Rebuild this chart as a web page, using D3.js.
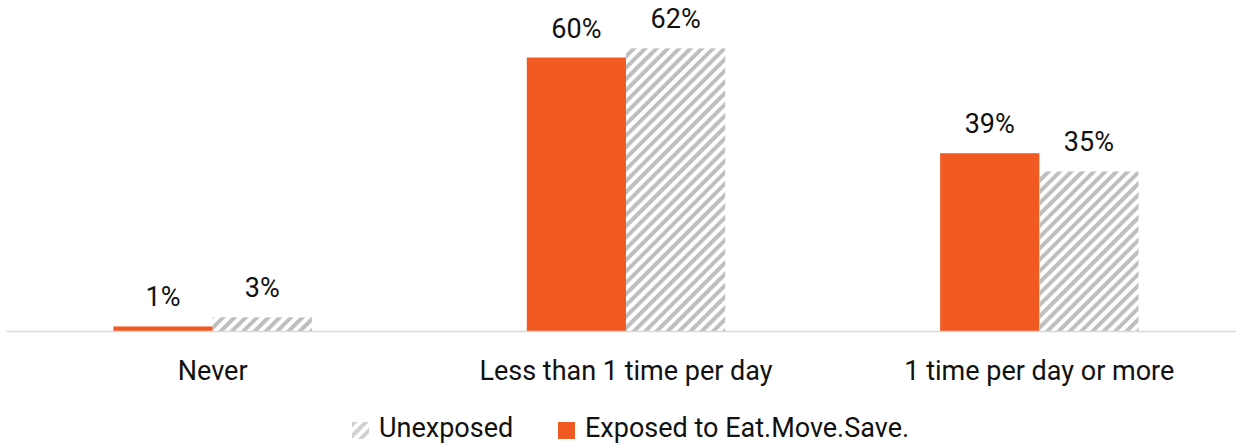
<!DOCTYPE html>
<html>
<head>
<meta charset="utf-8">
<script src="https://cdn.jsdelivr.net/npm/d3@7"></script>
<style>
  body { margin: 0; background: #fff; }
  text { font-family: "Roboto", "Noto Sans", sans-serif; fill: #111; }
</style>
</head>
<body>
<svg id="chart" width="1236" height="447"></svg>
<script>
// chart data
var categories = ["Never", "Less than 1 time per day", "1 time per day or more"];
var seriesNames = ["Exposed to Eat.Move.Save.", "Unexposed"];
var exposed = [1, 60, 39];
var unexposed = [3, 62, 35];

var legendOrder = ["Unexposed", "Exposed to Eat.Move.Save."];

var rows = categories.map(function(c, i) {
    return { cat: c, values: [
        { name: seriesNames[0], v: exposed[i] },
        { name: seriesNames[1], v: unexposed[i] }
    ]};
});

var svg = d3.select("#chart");
var orange = "#f15a22";
var hatchGray = "#bfbfbf";
var fontSize = "27px";

// hatch pattern for the unexposed bars
var defs = svg.append("defs");
function addHatch(id, color) {
    var pat = defs.append("pattern")
        .attr("id", id)
        .attr("patternUnits", "userSpaceOnUse")
        .attr("width", 8)
        .attr("height", 8)
        .attr("patternTransform", "rotate(45)");
    pat.append("rect")
        .attr("x", 0).attr("y", 0)
        .attr("width", 4).attr("height", 8)
        .attr("fill", color);
}
addHatch("hatch", hatchGray);
addHatch("hatchLight", "#d0d0d0");

function fillFor(name) {
    return name == seriesNames[0] ? orange : "url(#hatch)";
}

var baseline = 331;
var x0 = d3.scaleBand().domain(categories).range([6, 1246]);
var x1 = d3.scaleBand().domain(seriesNames)
    .range([x0.bandwidth() * 0.26, x0.bandwidth() * 0.74]);
var y = d3.scaleLinear().domain([0, 60]).range([baseline, 57.5]);

var groups = svg.selectAll("g.grp")
    .data(rows)
    .enter().append("g")
    .attr("class", "grp")
    .attr("transform", function(d) { return "translate(" + x0(d.cat) + ",0)"; });

groups.selectAll("rect")
    .data(function(d) { return d.values; })
    .enter().append("rect")
    .attr("x", function(d) { return x1(d.name); })
    .attr("y", function(d) { return y(d.v); })
    .attr("width", x1.bandwidth())
    .attr("height", function(d) { return baseline - y(d.v); })
    .attr("fill", function(d) { return fillFor(d.name); });

// value labels
groups.selectAll("text.val")
    .data(function(d) { return d.values; })
    .enter().append("text")
    .attr("class", "val")
    .attr("x", function(d) { return x1(d.name) + x1.bandwidth() / 2; })
    .attr("y", function(d) { return y(d.v) - 20; })
    .attr("text-anchor", "middle")
    .style("font-size", fontSize)
    .text(function(d) { return d.v + "%"; });

// axis line
svg.append("line")
    .attr("x1", 6).attr("x2", 1236)
    .attr("y1", baseline + 0.5).attr("y2", baseline + 0.5)
    .attr("stroke", "#d9d9d9")
    .attr("stroke-width", 1.5);

// category labels
svg.selectAll("text.cat")
    .data(categories)
    .enter().append("text")
    .attr("class", "cat")
    .attr("x", function(d) { return x0(d) + x0.bandwidth() / 2; })
    .attr("y", 380)
    .attr("text-anchor", "middle")
    .style("font-size", fontSize)
    .text(function(d) { return d; });

// legend
var legendX = [352, 558];
var legend = svg.selectAll("g.leg")
    .data(legendOrder)
    .enter().append("g")
    .attr("class", "leg")
    .attr("transform", function(d, i) { return "translate(" + legendX[i] + ",422)"; });
legend.append("rect")
    .attr("width", 17).attr("height", 17)
    .attr("fill", function(d) { return d == "Unexposed" ? "url(#hatchLight)" : orange; });
legend.append("text")
    .attr("x", 27)
    .attr("y", 15)
    .style("font-size", fontSize)
    .text(function(d) { return d; });
</script>
</body>
</html>
